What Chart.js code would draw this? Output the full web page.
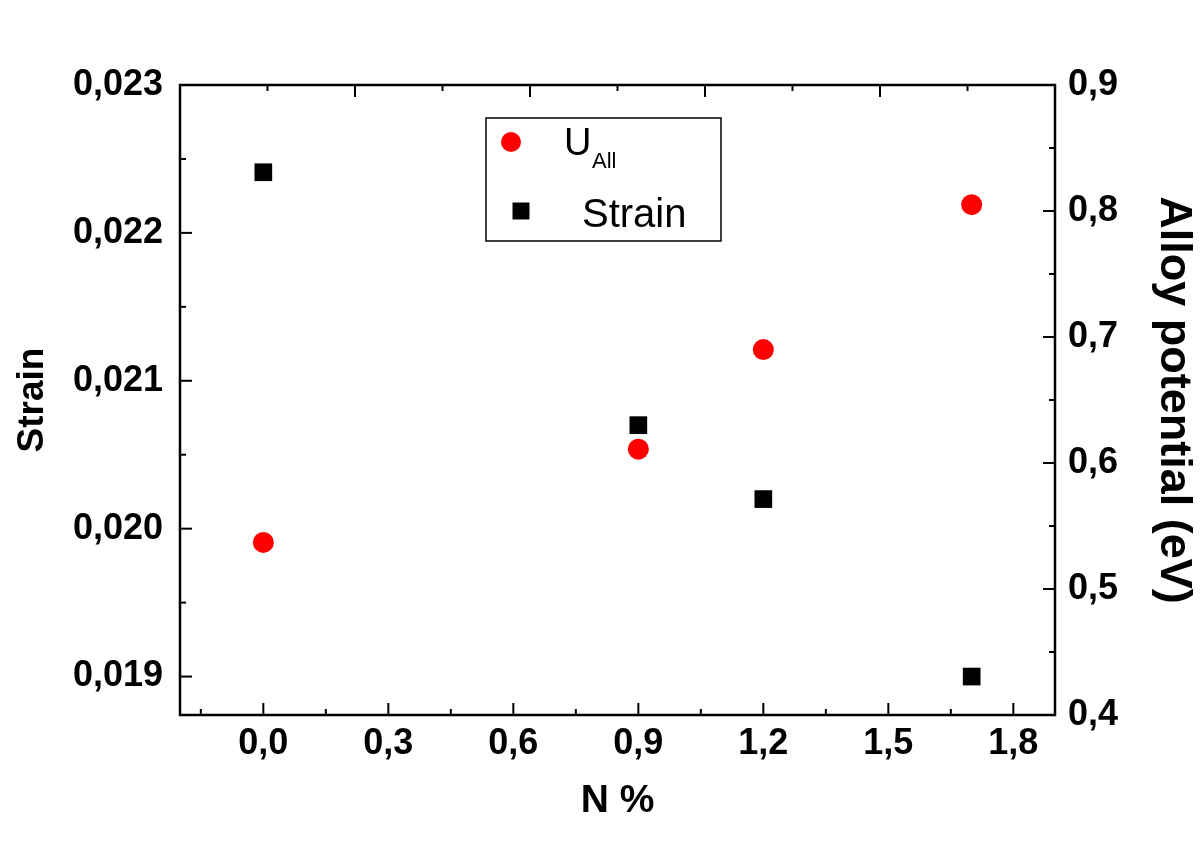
<!DOCTYPE html>
<html>
<head>
<meta charset="utf-8">
<script src="https://cdn.jsdelivr.net/npm/chart.js@4"></script>
<style>
  html, body { margin: 0; padding: 0; background: #fff; }
  #wrap { width: 1200px; height: 842px; position: relative; }
</style>
</head>
<body>
<div id="wrap"><canvas id="chart"></canvas></div>
<script>
// ---------- data ----------
const nPercent = [0, 0.9, 1.2, 1.7];
const strain = [0.02241, 0.0207, 0.0202, 0.019];
const alloyPotential = [0.537, 0.611, 0.690, 0.805];

// ---------- ticks ----------
const xTicks = [0, 0.3, 0.6, 0.9, 1.2, 1.5, 1.8];
const strainTicks = [0.019, 0.020, 0.021, 0.022, 0.023];
const potentialTicks = [0.4, 0.5, 0.6, 0.7, 0.8, 0.9];
const topTicks = [0, 1, 2, 3, 4, 5, 6, 7, 8, 9, 10];

const FONT = '"Liberation Sans", Arial, sans-serif';
const tickFont = { family: FONT, size: 36, weight: 'bold' };
const comma = (v, d) => v.toFixed(d).replace('.', ',');
const setTicks = (arr) => (s) => { s.ticks = arr.map((v) => ({ value: v })); };

// frame + inward major/minor ticks
const frameTicks = {
  id: 'frameTicks',
  afterDraw(chart) {
    const { ctx, chartArea: a, scales } = chart;
    ctx.save();
    ctx.strokeStyle = '#000';
    ctx.lineWidth = 2.5;
    ctx.strokeRect(a.left, a.top, a.right - a.left, a.bottom - a.top);
    ctx.lineWidth = 2;
    const line = (x1, y1, x2, y2) => {
      ctx.beginPath(); ctx.moveTo(x1, y1); ctx.lineTo(x2, y2); ctx.stroke();
    };
    const withMinor = (arr) => {
      const step = arr[1] - arr[0];
      const out = [];
      arr.forEach((v) => { out.push([v, 12]); out.push([v - step / 2, 6]); });
      out.push([arr[arr.length - 1] + step / 2, 6]);
      return out;
    };
    withMinor(xTicks).forEach(([v, len]) => {
      const px = scales.x.getPixelForValue(v);
      if (px > a.left + 1 && px < a.right - 1) line(px, a.bottom, px, a.bottom - len);
    });
    withMinor(strainTicks).forEach(([v, len]) => {
      const py = scales.y.getPixelForValue(v);
      if (py > a.top + 1 && py < a.bottom - 1) line(a.left, py, a.left + len, py);
    });
    withMinor(potentialTicks).forEach(([v, len]) => {
      const py = scales.y1.getPixelForValue(v);
      if (py > a.top + 1 && py < a.bottom - 1) line(a.right, py, a.right - len, py);
    });
    topTicks.forEach((v) => {
      const px = scales.x2.getPixelForValue(v);
      const len = v % 2 === 0 ? 12 : 6;
      if (px > a.left + 1 && px < a.right - 1) line(px, a.top, px, a.top + len);
    });
    ctx.restore();
  },
};

// boxed legend inside the plot
const boxLegend = {
  id: 'boxLegend',
  afterDraw(chart) {
    const ctx = chart.ctx;
    const [uDs, sDs] = chart.data.datasets;
    ctx.save();
    ctx.strokeStyle = '#000';
    ctx.lineWidth = 1.5;
    ctx.strokeRect(486, 118, 235, 123);
    ctx.fillStyle = uDs.backgroundColor;
    Chart.helpers.drawPoint(ctx, { pointStyle: 'circle', radius: 10, borderWidth: 0 }, 511, 142);
    ctx.fillStyle = sDs.backgroundColor;
    Chart.helpers.drawPoint(ctx, { pointStyle: 'rect', radius: 12, borderWidth: 0 }, 521, 211);
    ctx.fillStyle = '#000';
    ctx.textBaseline = 'alphabetic';
    ctx.textAlign = 'left';
    ctx.font = '38px ' + FONT;
    ctx.fillText('U', 564, 155);
    ctx.font = '22px ' + FONT;
    ctx.fillText('All', 592, 168);
    ctx.font = '40px ' + FONT;
    ctx.fillText(sDs.label, 582, 227);
    ctx.restore();
  },
};

new Chart(document.getElementById('chart'), {
  type: 'scatter',
  data: {
    datasets: [
      {
        label: 'U_All',
        data: nPercent.map((x, i) => ({ x, y: alloyPotential[i] })),
        yAxisID: 'y1',
        pointStyle: 'circle',
        pointRadius: 10.5,
        backgroundColor: '#ff0000',
        borderWidth: 0,
      },
      {
        label: 'Strain',
        data: nPercent.map((x, i) => ({ x, y: strain[i] })),
        yAxisID: 'y',
        pointStyle: 'rect',
        pointRadius: 12.5,
        backgroundColor: '#000000',
        borderWidth: 0,
      },
    ],
  },
  options: {
    responsive: true,
    maintainAspectRatio: false,
    animation: false,
    layout: { padding: { top: 85, left: 0, right: 0, bottom: 0 } },
    plugins: { legend: { display: false }, tooltip: { enabled: false } },
    scales: {
      x: {
        type: 'linear',
        position: 'bottom',
        min: -0.2,
        max: 1.9,
        afterBuildTicks: setTicks(xTicks),
        afterFit: (s) => { s.height = 127; },
        grid: { display: false, drawTicks: false },
        border: { display: false },
        ticks: { font: tickFont, color: '#000', padding: 7, maxRotation: 0,
          callback: (v) => comma(v, 1) },
        title: { display: true, text: 'N %', color: '#000',
          font: { family: FONT, size: 39, weight: 'bold' }, padding: { top: 0, bottom: 17 } },
      },
      x2: {
        type: 'linear',
        position: 'top',
        min: 0,
        max: 10,
        afterFit: (s) => { s.height = 0; },
        grid: { display: false, drawTicks: false },
        border: { display: false },
        ticks: { display: false },
      },
      y: {
        type: 'linear',
        position: 'left',
        min: 0.01874,
        max: 0.023,
        afterBuildTicks: setTicks(strainTicks),
        afterFit: (s) => { s.width = 180; },
        grid: { display: false, drawTicks: false },
        border: { display: false },
        ticks: { font: tickFont, color: '#000', padding: 17,
          callback: (v) => comma(v, 3) },
        title: { display: true, text: 'Strain', color: '#000',
          font: { family: FONT, size: 37, weight: 'bold' }, padding: { top: 11, bottom: 0 } },
      },
      y1: {
        type: 'linear',
        position: 'right',
        min: 0.4,
        max: 0.9,
        afterBuildTicks: setTicks(potentialTicks),
        afterFit: (s) => { s.width = 145; },
        grid: { display: false, drawTicks: false },
        border: { display: false },
        ticks: { font: tickFont, color: '#000', padding: 13,
          callback: (v) => comma(v, 1) },
        title: { display: true, text: 'Alloy potential (eV)', color: '#000',
          font: { family: FONT, size: 45, weight: 'bold' }, padding: { top: 0, bottom: 0 } },
      },
    },
  },
  plugins: [frameTicks, boxLegend],
});
</script>
</body>
</html>
